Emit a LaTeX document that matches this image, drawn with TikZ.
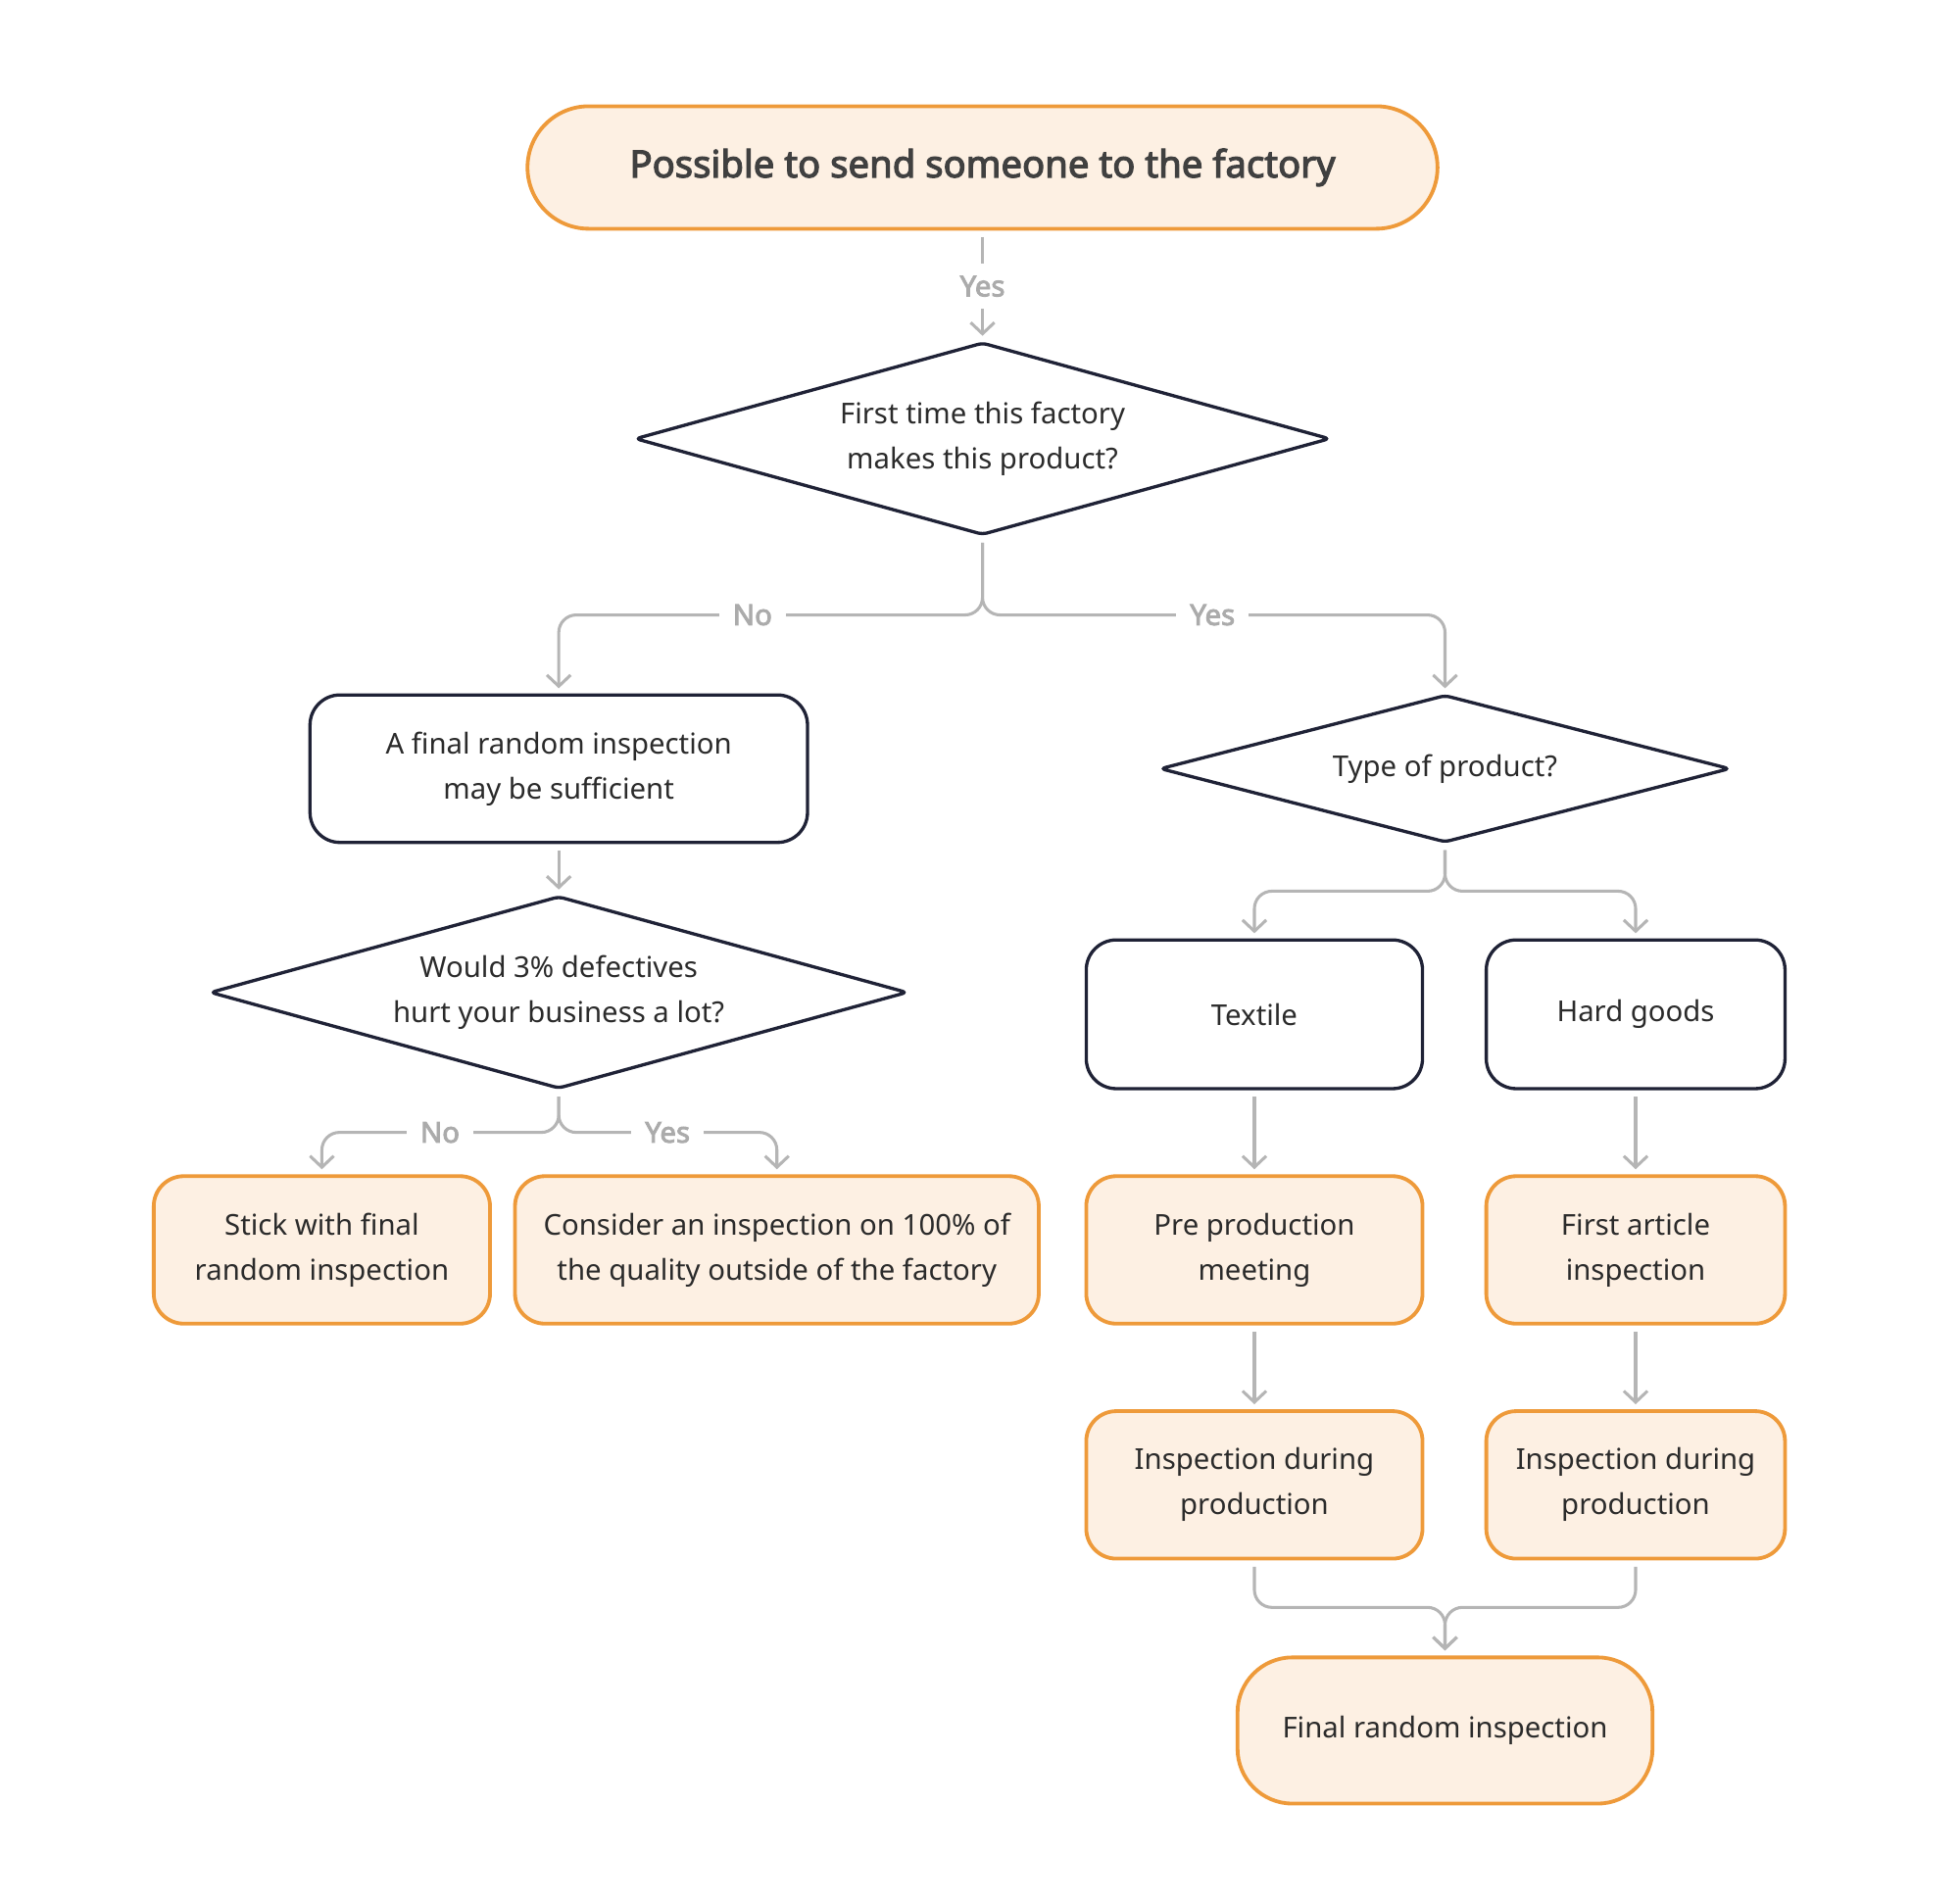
\documentclass[tikz,border=0pt]{standalone}
\usepackage{fontspec}
\setmainfont{Noto Sans}[BoldFont={Noto Sans}, BoldFeatures={FakeBold=3}]
\usetikzlibrary{arrows.meta,shapes.geometric}
\definecolor{orng}{HTML}{EE9A3A}
\definecolor{peach}{HTML}{FDF0E3}
\definecolor{navy}{HTML}{1F2236}
\definecolor{lgray}{HTML}{B5B5B5}
\definecolor{lbltxt}{HTML}{ABABAB}
\definecolor{txt}{HTML}{2B2B2B}
\newcommand{\bodyfont}{\fontsize{23}{36}\selectfont}
\tikzset{
  base/.style={inner sep=0pt, align=center, text=txt, font=\bodyfont},
  orbox/.style={base, rectangle, rounded corners=24pt, draw=orng, fill=peach, line width=3pt},
  nvbox/.style={base, rectangle, rounded corners=24pt, draw=navy, fill=white, line width=2.6pt},
  dia/.style={base, diamond, rounded corners=4pt, draw=navy, fill=white, line width=2.6pt},
  conn/.style={draw=lgray, line width=2.4pt, rounded corners=14pt, shorten <=5pt, shorten >=4pt,
    -{Straight Barb[length=9pt,width=19pt]}},
  lbl/.style={fill=white, inner xsep=11pt, inner ysep=10pt, text=lbltxt, font=\fontsize{23}{26}\selectfont\bfseries}
}
\begin{document}
\begin{tikzpicture}[x=1pt,y=-1pt]
\useasboundingbox (0,0) rectangle (1568,1522);
% nodes
\node[orbox, rounded corners=49pt, minimum width=728pt, minimum height=98pt,
  font=\fontsize{30}{36}\selectfont\bfseries, text=txt!90] (top) at (786,134) {Possible to send someone to the factory};
\node[dia, minimum width=556pt, minimum height=154pt, shape aspect=3.6] (d1) at (786,351) {First time this factory\\makes this product?};
\node[nvbox, minimum width=398pt, minimum height=118pt] (a1) at (447,615) {A final random inspection\\may be sufficient};
\node[dia, minimum width=558pt, minimum height=154pt, shape aspect=3.6] (d2) at (447,794) {Would 3\% defectives\\hurt your business a lot?};
\node[dia, minimum width=456pt, minimum height=118pt, shape aspect=3.86] (d3) at (1156,615) {Type of product?};
\node[nvbox, minimum width=269pt, minimum height=119pt] (tex) at (1003.5,811.5) {Textile};
\node[nvbox, minimum width=239pt, minimum height=119pt] (hard) at (1308.5,811.5) {Hard goods};
\node[orbox, minimum width=269pt, minimum height=118pt] (stick) at (257.5,1000) {Stick with final\\random inspection};
\node[orbox, minimum width=419pt, minimum height=118pt] (cons) at (621.5,1000) {Consider an inspection on 100\% of\\the quality outside of the factory};
\node[orbox, minimum width=269pt, minimum height=118pt] (pre) at (1003.5,1000) {Pre production\\meeting};
\node[orbox, minimum width=239pt, minimum height=118pt] (first) at (1308.5,1000) {First article\\inspection};
\node[orbox, minimum width=269pt, minimum height=118pt] (ip1) at (1003.5,1188) {Inspection during\\production};
\node[orbox, minimum width=239pt, minimum height=118pt] (ip2) at (1308.5,1188) {Inspection during\\production};
\node[orbox, rounded corners=44pt, minimum width=332pt, minimum height=117pt] (fin) at (1156,1384.5) {Final random inspection};
% junctions
\coordinate (j1) at (786,492);
\coordinate (j2) at (447,906);
\coordinate (j3) at (1156,713);
\coordinate (m) at (1156,1286);
% connectors
\draw[conn] (top.south) -- (d1.north);
\draw[conn] (d1.south) -- (j1) -| (a1.north);
\draw[conn] (d1.south) -- (j1) -| (d3.north);
\draw[conn] (a1.south) -- (d2.north);
\draw[conn] (d2.south) -- (j2) -| (stick.north);
\draw[conn] (d2.south) -- (j2) -| (cons.north);
\draw[conn] (d3.south) -- (j3) -| (tex.north);
\draw[conn] (d3.south) -- (j3) -| (hard.north);
\draw[conn] (tex.south) -- (pre.north);
\draw[conn] (hard.south) -- (first.north);
\draw[conn] (pre.south) -- (ip1.north);
\draw[conn] (first.south) -- (ip2.north);
\draw[conn] (ip1.south) |- (m) -- (fin.north);
\draw[conn] (ip2.south) |- (m) -- (fin.north);
% labels
\node[lbl] (l0) at (786,229) {Yes};
\node[lbl] (l1) at (602,492) {No};
\node[lbl] (l2) at (970,492) {Yes};
\node[lbl] (l3) at (352,906) {No};
\node[lbl] (l4) at (534,906) {Yes};
\end{tikzpicture}
\end{document}
